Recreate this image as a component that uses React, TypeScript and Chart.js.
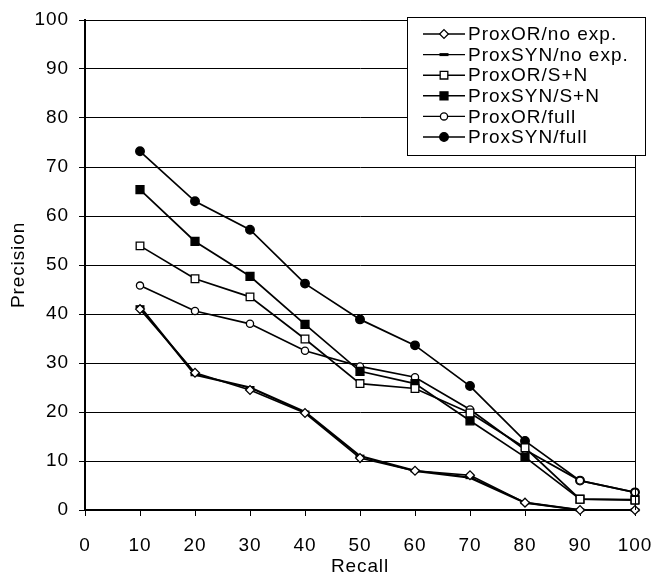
import React, { useEffect, useRef } from "react";
import { Chart, registerables } from "chart.js";

Chart.register(...registerables);

const recall = [10, 20, 30, 40, 50, 60, 70, 80, 90, 100];
const proxORNoExp = [41, 28, 24.5, 19.8, 10.6, 8, 7.1, 1.5, 0, 0];
const proxSYNNoExp = [41.5, 27.6, 25, 20, 11, 8, 6.6, 1.5, 0, 0];
const proxORSN = [53.9, 47.2, 43.5, 34.9, 25.8, 24.8, 19.8, 12.7, 2.2, 2];
const proxSYNSN = [65.4, 54.8, 47.7, 37.9, 28.3, 25.8, 18.2, 10.8, 2.2, 2.1];
const proxORFull = [45.8, 40.6, 38, 32.5, 29.3, 27.1, 20.5, 12.3, 6, 3.6];
const proxSYNFull = [73.2, 63, 57.2, 46.2, 38.9, 33.6, 25.3, 14.1, 6, 3.6];

const labels = [
  "ProxOR/no exp.",
  "ProxSYN/no exp.",
  "ProxOR/S+N",
  "ProxSYN/S+N",
  "ProxOR/full",
  "ProxSYN/full",
];

const FONT = "'Liberation Sans', Arial, Helvetica, sans-serif";
const SPACING = "0.9px";

type Marker = { style: string; fill: string; r: number };
const markers: Marker[] = [
  { style: "rectRot", fill: "#fff", r: 4.4 },
  { style: "line", fill: "#000", r: 4.5 },
  { style: "rect", fill: "#fff", r: 5.4 },
  { style: "rect", fill: "#000", r: 5.6 },
  { style: "circle", fill: "#fff", r: 3.6 },
  { style: "circle", fill: "#000", r: 4.3 },
];

function drawMarker(ctx: CanvasRenderingContext2D, m: Marker, x: number, y: number) {
  ctx.save();
  ctx.fillStyle = m.fill;
  ctx.strokeStyle = "#000";
  ctx.lineWidth = 1.3;
  ctx.beginPath();
  if (m.style === "circle") {
    ctx.arc(x, y, m.r, 0, Math.PI * 2);
    ctx.fill();
    ctx.stroke();
  } else if (m.style === "rect") {
    const s = m.r * Math.SQRT1_2;
    ctx.rect(x - s, y - s, 2 * s, 2 * s);
    ctx.fill();
    ctx.stroke();
  } else if (m.style === "rectRot") {
    ctx.moveTo(x, y - m.r);
    ctx.lineTo(x + m.r, y);
    ctx.lineTo(x, y + m.r);
    ctx.lineTo(x - m.r, y);
    ctx.closePath();
    ctx.fill();
    ctx.stroke();
  } else if (m.style === "line") {
    ctx.lineWidth = 3;
    ctx.moveTo(x - m.r, y);
    ctx.lineTo(x + m.r, y);
    ctx.stroke();
  }
  ctx.restore();
}

function setSpacing(chart: any) {
  const ctx: any = chart.ctx;
  if (ctx && "letterSpacing" in ctx) ctx.letterSpacing = SPACING;
}

const framePlugin = {
  id: "framePlugin",
  beforeUpdate(chart: any) {
    setSpacing(chart);
  },
  beforeLayout(chart: any) {
    setSpacing(chart);
  },
  beforeDraw(chart: any) {
    setSpacing(chart);
  },
  afterDraw(chart: any) {
    const ctx: CanvasRenderingContext2D = chart.ctx;
    const a = chart.chartArea;
    ctx.save();
    ctx.strokeStyle = "#000";
    ctx.lineWidth = 1;
    ctx.beginPath();
    ctx.moveTo(a.left, a.top + 0.5);
    ctx.lineTo(a.right + 0.5, a.top + 0.5);
    ctx.lineTo(a.right + 0.5, a.bottom);
    ctx.stroke();

    // legend box
    const bx = 407.5, by = 17.5, bw = 238, bh = 138;
    ctx.fillStyle = "#fff";
    ctx.fillRect(bx, by, bw, bh);
    ctx.strokeRect(bx, by, bw, bh);
    (ctx as any).letterSpacing = "1px";
    ctx.font = `19px ${FONT}`;
    ctx.textBaseline = "middle";
    ctx.textAlign = "left";
    for (let i = 0; i < labels.length; i++) {
      const y = 34 + i * 20.6;
      ctx.strokeStyle = "#000";
      ctx.lineWidth = 1.4;
      ctx.beginPath();
      ctx.moveTo(423, y);
      ctx.lineTo(465, y);
      ctx.stroke();
      drawMarker(ctx, markers[i], 444, y);
      ctx.fillStyle = "#000";
      ctx.fillText(labels[i], 468, y + 1);
    }
    ctx.restore();
  },
};

export default function App() {
  const ref = useRef<HTMLCanvasElement | null>(null);
  useEffect(() => {
    if (!ref.current) return;
    const series = [proxORNoExp, proxSYNNoExp, proxORSN, proxSYNSN, proxORFull, proxSYNFull];
    const chart = new Chart(ref.current, {
      type: "line",
      data: {
        datasets: series.map((s, i) => ({
          label: labels[i],
          data: s.map((v, j) => ({ x: recall[j], y: v })),
          borderColor: "#000",
          borderWidth: i === 1 ? 2.2 : 1.7,
          backgroundColor: markers[i].fill,
          pointStyle: markers[i].style as any,
          pointRadius: markers[i].r,
          pointBorderColor: "#000",
          pointBorderWidth: markers[i].style === "line" ? 3 : 1.3,
          pointBackgroundColor: markers[i].fill,
          fill: false,
          tension: 0,
          clip: false as any,
        })),
      },
      options: {
        animation: false,
        responsive: false,
        maintainAspectRatio: false,
        layout: { padding: { top: 20, right: 21, left: 0, bottom: 0 } },
        plugins: { legend: { display: false }, tooltip: { enabled: false } },
        scales: {
          x: {
            type: "linear",
            min: 0,
            max: 100,
            ticks: {
              stepSize: 10,
              color: "#000",
              font: { family: FONT, size: 19 },
              padding: 18,
              maxRotation: 0,
            },
            grid: { drawOnChartArea: false, color: "#000", tickLength: 6, lineWidth: 1 },
            border: { color: "#000", width: 2 },
            title: {
              display: true,
              text: "Recall",
              color: "#000",
              font: { family: FONT, size: 19 },
              padding: { top: 0, bottom: -5 },
            },
            afterFit(scale: any) {
              scale.height = 63;
              scale.paddingLeft = 0;
              scale.paddingRight = 0;
            },
          },
          y: {
            type: "linear",
            min: 0,
            max: 100,
            ticks: {
              stepSize: 10,
              color: "#000",
              font: { family: FONT, size: 19 },
              padding: 10,
            },
            grid: { color: "#000", tickLength: 6, lineWidth: 1 },
            border: { color: "#000", width: 2 },
            title: {
              display: true,
              text: "Precision",
              color: "#000",
              font: { family: FONT, size: 19 },
              padding: { top: 7, bottom: 0 },
            },
            afterFit(scale: any) {
              scale.width = 85;
              scale.paddingTop = 0;
              scale.paddingBottom = 0;
            },
          },
        },
      },
      plugins: [framePlugin],
    });
    return () => chart.destroy();
  }, []);
  return (
    <div style={{ position: "absolute", left: 0, top: 0, width: 656, height: 573, background: "#fff" }}>
      <canvas ref={ref} width={656} height={573} style={{ display: "block", width: 656, height: 573 }} />
    </div>
  );
}
